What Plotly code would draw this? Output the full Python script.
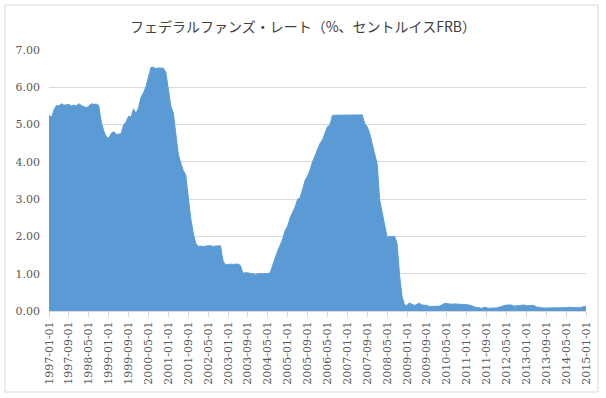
import plotly.graph_objects as go

years = list(range(1997, 2016))
rates_1997 = [5.25, 5.19, 5.39, 5.51, 5.50, 5.56, 5.52, 5.54, 5.54, 5.50, 5.52, 5.50]
rates_1998 = [5.56, 5.51, 5.49, 5.45, 5.49, 5.56, 5.54, 5.55, 5.51, 5.07, 4.83, 4.68]
rates_1999 = [4.63, 4.76, 4.81, 4.74, 4.74, 4.76, 4.99, 5.07, 5.22, 5.20, 5.42, 5.30]
rates_2000 = [5.45, 5.73, 5.85, 6.02, 6.27, 6.53, 6.54, 6.50, 6.52, 6.51, 6.51, 6.40]
rates_2001 = [5.98, 5.49, 5.31, 4.80, 4.21, 3.97, 3.77, 3.65, 3.07, 2.49, 2.09, 1.82]
rates_2002 = [1.73, 1.74, 1.73, 1.75, 1.75, 1.75, 1.73, 1.74, 1.75, 1.75, 1.34, 1.24]
rates_2003 = [1.24, 1.26, 1.25, 1.26, 1.26, 1.22, 1.01, 1.03, 1.01, 1.01, 1.00, 0.98]
rates_2004 = [1.00, 1.01, 1.00, 1.00, 1.00, 1.03, 1.26, 1.43, 1.61, 1.76, 1.93, 2.16]
rates_2005 = [2.28, 2.50, 2.63, 2.79, 3.00, 3.04, 3.26, 3.50, 3.62, 3.78, 4.00, 4.16]
rates_2006 = [4.29, 4.49, 4.59, 4.79, 4.94, 4.99, 5.24, 5.25, 5.25, 5.25, 5.25, 5.24]
rates_2007 = [5.25, 5.26, 5.26, 5.25, 5.25, 5.25, 5.26, 5.02, 4.94, 4.76, 4.49, 4.24]
rates_2008 = [3.94, 2.98, 2.61, 2.28, 1.98, 2.00, 2.01, 2.00, 1.81, 0.97, 0.39, 0.16]
rates_2009 = [0.15, 0.22, 0.18, 0.15, 0.18, 0.21, 0.16, 0.16, 0.15, 0.12, 0.12, 0.12]
rates_2010 = [0.11, 0.13, 0.16, 0.20, 0.20, 0.18, 0.18, 0.19, 0.19, 0.19, 0.19, 0.18]
rates_2011 = [0.17, 0.16, 0.14, 0.10, 0.09, 0.09, 0.07, 0.10, 0.08, 0.07, 0.08, 0.07]
rates_2012 = [0.08, 0.10, 0.13, 0.14, 0.16, 0.16, 0.16, 0.13, 0.14, 0.16, 0.16, 0.16]
rates_2013 = [0.14, 0.15, 0.14, 0.15, 0.11, 0.09, 0.09, 0.08, 0.08, 0.09, 0.08, 0.09]
rates_2014 = [0.07, 0.07, 0.08, 0.09, 0.09, 0.10, 0.09, 0.09, 0.09, 0.09, 0.09, 0.12]
rates_2015 = [0.11]

yearly = [rates_1997, rates_1998, rates_1999, rates_2000, rates_2001, rates_2002,
          rates_2003, rates_2004, rates_2005, rates_2006, rates_2007, rates_2008,
          rates_2009, rates_2010, rates_2011, rates_2012, rates_2013, rates_2014,
          rates_2015]

dates = []
values = []
for y, vals in zip(years, yearly):
    for m, v in enumerate(vals, start=1):
        dates.append(f"{y}-{m:02d}-01")
        values.append(v)

tick_labels = dates[::8]
y_ticks = [0, 1, 2, 3, 4, 5, 6, 7]
title_text = "フェデラルファンズ・レート（%、セントルイスFRB）"

FONT = "DejaVu Serif"
fig = go.Figure()
fig.add_trace(go.Scatter(
    x=dates, y=values, mode="lines", fill="tozeroy",
    line=dict(color="#5B9BD5", width=1), fillcolor="#5B9BD5",
    hoverinfo="x+y", showlegend=False,
))

fig.update_layout(
    width=606, height=398,
    margin=dict(l=49, r=20, t=50, b=87, autoexpand=False),
    paper_bgcolor="white", plot_bgcolor="white",
    title=dict(text=title_text, x=0.5, xanchor="center", y=0.932, yanchor="middle",
               font=dict(family="Noto Sans CJK JP", size=14, color="#404040")),
    font=dict(family=FONT, color="#595959", size=11),
    xaxis=dict(type="category", categoryorder="array", categoryarray=dates,
               range=[0, len(dates) - 1], automargin=False,
               tickmode="array", tickvals=tick_labels, ticktext=tick_labels,
               tickangle=-90, ticks="outside", ticklen=5, tickcolor="#D9D9D9",
               showline=True, linecolor="#D9D9D9", showgrid=False,
               tickfont=dict(family=FONT, size=11, color="#595959")),
    yaxis=dict(range=[0, 7], tickvals=y_ticks, tickformat=".2f", automargin=False,
               showgrid=True, gridcolor="#D9D9D9", zeroline=False,
               showline=False, ticks="", ticklabelstandoff=8,
               tickfont=dict(family=FONT, size=11, color="#595959")),
    shapes=[dict(type="rect", xref="paper", yref="paper",
                 x0=-44/537, x1=1 + 12/537, y0=-81/261, y1=1 + 45/261,
                 line=dict(color="#D9D9D9", width=1), layer="above")],
)

fig.write_html("out.html", config={"displayModeBar": False},
               post_script="document.body.style.margin='0';")
